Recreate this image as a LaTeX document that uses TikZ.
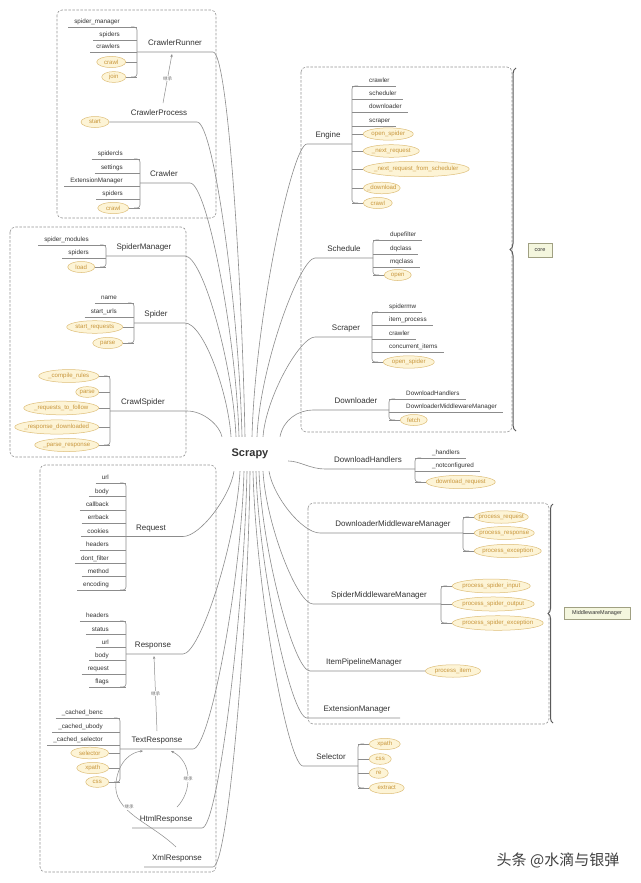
\documentclass[tikz,border=0pt]{standalone}
\usepackage{fontspec}
\setmainfont{Liberation Sans}
\newfontfamily\cjkfont{Noto Sans CJK SC}
\usetikzlibrary{decorations.pathreplacing,arrows.meta,shapes.geometric}
\definecolor{lnc}{RGB}{140,140,140}
\definecolor{txc}{RGB}{51,51,51}
\definecolor{ovf}{RGB}{253,244,214}
\definecolor{ovd}{RGB}{222,190,120}
\definecolor{ovt}{RGB}{200,150,60}
\definecolor{boxc}{RGB}{150,150,150}
\definecolor{brcc}{RGB}{90,90,90}
\definecolor{tagf}{RGB}{244,246,222}
\definecolor{tagd}{RGB}{160,160,130}
% left text child: name, bracket x, underline y, text
\newcommand\kidL[4]{\coordinate (#1b) at (#2,#3);
  \node[kid,anchor=south east] (#1) at ([xshift=-11pt]#1b) {#4};
  \draw[ln] (#1.south west) -- (#1b);}
% left oval child: name, bracket x, centre y, width, text
\newcommand\ovL[5]{\coordinate (#1b) at (#2,#3);
  \node[ov,anchor=east,minimum width=#4pt,minimum height={9.5+#4/18}] (#1) at ([xshift=-11pt]#1b) {#5};
  \draw[ln] (#1.east) -- (#1b);}
\newcommand\kidR[4]{\coordinate (#1b) at (#2,#3);
  \node[kid,anchor=south west] (#1) at ([xshift=11pt]#1b) {#4};
  \draw[ln] (#1b) -- (#1.south east);}
\newcommand\ovR[5]{\coordinate (#1b) at (#2,#3);
  \node[ov,anchor=west,minimum width=#4pt,minimum height={9.5+#4/18}] (#1) at ([xshift=11pt]#1b) {#5};
  \draw[ln] (#1b) -- (#1.west);}
\newcommand\brkL[2]{\draw[ln,rounded corners=3pt] ([xshift=-6pt]#1b) -- (#1b) -- (#2b) -- ([xshift=-6pt]#2b);}
\newcommand\brkR[2]{\draw[ln,rounded corners=3pt] ([xshift=6pt]#1b) -- (#1b) -- (#2b) -- ([xshift=6pt]#2b);}
\begin{document}
\begin{tikzpicture}[x=1pt,y=-1pt,
 ln/.style={draw=lnc, line width=0.6pt},
 kid/.style={font=\fontsize{6.3}{7}\selectfont, text=txc, inner xsep=6pt, inner ysep=3pt, text depth=0pt},
 main/.style={font=\fontsize{8}{9}\selectfont, text=txc, inner xsep=2pt, inner ysep=6pt, text depth=0pt},
 ov/.style={ellipse, draw=ovd, fill=ovf, text=ovt, line width=0.5pt, font=\fontsize{6.1}{7}\selectfont, inner xsep=-60pt, inner ysep=-20pt},
 dbox/.style={draw=boxc, dash pattern=on 2.5pt off 1.5pt, rounded corners=5pt, line width=0.6pt},
 brc/.style={draw=brcc, line width=1pt, decorate, decoration={brace, mirror, amplitude=6pt}},
 tag/.style={draw=tagd, fill=tagf, font=\fontsize{5.5}{6}\selectfont, text=txc, inner sep=0pt},
 inh/.style={draw=lnc, line width=0.5pt, -{Stealth[length=3pt,width=2.4pt]}},
 jc/.style={font=\cjkfont\fontsize{4.5}{5}\selectfont, text=lnc!80!black, fill=white, inner sep=0.8pt}]
\fill[white] (0,0) rectangle (640,883);
\useasboundingbox (0,0) rectangle (640,883);
% dashed group boxes
\draw[dbox] (57,10) rectangle (216,218);
\draw[dbox] (10,227) rectangle (186,457);
\draw[dbox] (40,465) rectangle (216,872);
\draw[dbox] (301,67) rectangle (512,432);
\draw[dbox] (308,503) rectangle (549,724);
% centre
\node[font=\bfseries\fontsize{11}{12}\selectfont, text=txc, minimum width=76pt, minimum height=34pt, inner sep=0pt] (S) at (250,454) {Scrapy};

% ---------- CrawlerRunner
\kidL{cr1}{137}{27}{spider\_manager}
\kidL{cr2}{137}{40}{spiders}
\kidL{cr3}{137}{52}{crawlers}
\ovL{cr4}{137}{62}{29}{crawl}
\ovL{cr5}{137}{77}{24}{join}
\brkL{cr1}{cr5}
\node[main,anchor=south] (CR) at (175,52) {CrawlerRunner};
\coordinate (CRb) at (137,52); \coordinate (CRe) at (213,52);
\draw[ln] (CRb) -- (CRe) .. controls (228,52) and (242,283) .. ([xshift=-5pt]S.north);
% ---------- CrawlerProcess
\node[main,anchor=south] (CP) at (159,122) {CrawlerProcess};
\node[ov,minimum width=28pt,minimum height=11pt] (cps) at (95,122) {start};
\coordinate (CPe) at (197,122);
\draw[ln] (cps.east) -- (CPe) .. controls (214,122) and (239,311) .. ([xshift=-8pt]S.north);
\coordinate (i1s) at (163,103); \coordinate (i1e) at (172,54);
\draw[inh] (i1s) -- node[jc] (j1) {继承} (i1e);
% ---------- Crawler
\kidL{cw1}{140}{159}{spidercls}
\kidL{cw2}{140}{173}{settings}
\kidL{cw3}{140}{186}{ExtensionManager}
\kidL{cw4}{140}{199}{spiders}
\ovL{cw5}{140}{208}{31}{crawl}
\brkL{cw1}{cw5}
\node[main,anchor=south] (CW) at (164,183) {Crawler};
\coordinate (CWb) at (140,183); \coordinate (CWe) at (190,183);
\draw[ln] (CWb) -- (CWe) .. controls (207,183) and (236,335) .. ([xshift=-11pt]S.north);
% ---------- SpiderManager
\kidL{sm1}{106}{245}{spider\_modules}
\kidL{sm2}{106}{258}{spiders}
\ovL{sm3}{106}{267}{27}{load}
\brkL{sm1}{sm3}
\node[main,anchor=south] (SM) at (144,256) {SpiderManager};
\coordinate (SMb) at (106,256); \coordinate (SMe) at (185,256);
\draw[ln] (SMb) -- (SMe) .. controls (203,256) and (233,365) .. ([xshift=-14pt]S.north);
% ---------- Spider
\kidL{sp1}{134}{303}{name}
\kidL{sp2}{134}{317}{start\_urls}
\ovL{sp3}{134}{327}{56}{start\_requests}
\ovL{sp4}{134}{343}{30}{parse}
\brkL{sp1}{sp4}
\node[main,anchor=south] (SP) at (156,323) {Spider};
\coordinate (SPb) at (134,323); \coordinate (SPe) at (185,323);
\draw[ln] (SPb) -- (SPe) .. controls (203,323) and (228,391) .. ([xshift=-19pt]S.north);
% ---------- CrawlSpider
\ovL{cs1}{110}{376}{60}{\_compile\_rules}
\ovL{cs2}{110}{392}{23}{parse}
\ovL{cs3}{110}{408}{75}{\_requests\_to\_follow}
\ovL{cs4}{110}{427}{84}{\_response\_downloaded}
\ovL{cs5}{110}{445}{64}{\_parse\_response}
\brkL{cs1}{cs5}
\node[main,anchor=south] (CS) at (143,411) {CrawlSpider};
\coordinate (CSb) at (110,411); \coordinate (CSe) at (187,411);
\draw[ln] (CSb) -- (CSe) .. controls (204,411) and (220,426) .. ([xshift=-28pt]S.north);
% ---------- Request
\kidL{rq1}{126}{483}{url}
\kidL{rq2}{126}{496.4}{body}
\kidL{rq3}{126}{509.8}{callback}
\kidL{rq4}{126}{523.1}{errback}
\kidL{rq5}{126}{536.5}{cookies}
\kidL{rq6}{126}{549.9}{headers}
\kidL{rq7}{126}{563.3}{dont\_filter}
\kidL{rq8}{126}{576.6}{method}
\kidL{rq9}{126}{590}{encoding}
\brkL{rq1}{rq9}
\node[main,anchor=south] (RQ) at (151,536.5) {Request};
\coordinate (RQb) at (126,536.5); \coordinate (RQe) at (183,536.5);
\draw[ln] (RQb) -- (RQe) .. controls (200,536.5) and (230,497) .. ([xshift=-16pt]S.south);
% ---------- Response
\kidL{rs1}{126}{621}{headers}
\kidL{rs2}{126}{634.2}{status}
\kidL{rs3}{126}{647.4}{url}
\kidL{rs4}{126}{660.6}{body}
\kidL{rs5}{126}{673.8}{request}
\kidL{rs6}{126}{687}{flags}
\brkL{rs1}{rs6}
\node[main,anchor=south] (RS) at (153,654) {Response};
\coordinate (RSb) at (126,654); \coordinate (RSe) at (183,654);
\draw[ln] (RSb) -- (RSe) .. controls (200,654) and (236,544) .. ([xshift=-10pt]S.south);
% ---------- TextResponse
\kidL{tr1}{120}{718}{\_cached\_benc}
\kidL{tr2}{120}{732}{\_cached\_ubody}
\kidL{tr3}{120}{745}{\_cached\_selector}
\ovL{tr4}{120}{753}{38}{selector}
\ovL{tr5}{120}{768}{32}{xpath}
\ovL{tr6}{120}{782}{23}{css}
\brkL{tr1}{tr6}
\node[main,anchor=south] (TR) at (157,749) {TextResponse};
\coordinate (TRb) at (120,749); \coordinate (TRe) at (193,749);
\draw[ln] (TRb) -- (TRe) .. controls (210,749) and (241,582) .. ([xshift=-6pt]S.south);
\coordinate (i2s) at (157,731); \coordinate (i2e) at (154,656);
\draw[inh] (i2s) -- node[jc] (j2) {继承} (i2e);
% ---------- HtmlResponse / XmlResponse
\node[main,anchor=south] (HR) at (166,828) {HtmlResponse};
\coordinate (HRb) at (132,828); \coordinate (HRe) at (202,828);
\draw[ln] (HRb) -- (HRe) .. controls (218,828) and (244,614) .. ([xshift=-3pt]S.south);
\node[main,anchor=south] (XR) at (177,867) {XmlResponse};
\coordinate (XRb) at (144,867); \coordinate (XRe) at (213,867);
\draw[ln] (XRb) -- (XRe) .. controls (228,867) and (248,630) .. (S.south);
\coordinate (i3s) at (177,807); \coordinate (i3e) at (171,751);
\draw[inh] (i3s) .. controls (192,792) and (193,762) .. (i3e);
\node[jc] (j3) at (188,779) {继承};
\coordinate (i4s) at (176,847); \coordinate (i4m) at (116,782); \coordinate (i4e) at (143,751);
\draw[inh] (i4s) .. controls (150,822) and (112,812) .. (i4m) .. controls (119,760) and (132,752) .. (i4e);
\node[jc] (j4) at (129,807) {继承};

% ---------- Engine
\kidR{en1}{352}{86}{crawler}
\kidR{en2}{352}{99}{scheduler}
\kidR{en3}{352}{112}{downloader}
\kidR{en4}{352}{126}{scraper}
\ovR{en5}{352}{134}{50}{open\_spider}
\ovR{en6}{352}{151}{56}{\_next\_request}
\ovR{en7}{352}{169}{106}{\_next\_request\_from\_scheduler}
\ovR{en8}{352}{188}{37}{\_download}
\ovR{en9}{352}{203}{29}{crawl}
\brkR{en1}{en9}
\node[main,anchor=south] (EN) at (328,144) {Engine};
\coordinate (ENb) at (352,144); \coordinate (ENs) at (307,144);
\draw[ln] (ENb) -- (ENs) .. controls (292,144) and (255,320) .. ([xshift=2pt]S.north);
% ---------- Schedule
\kidR{sc1}{373}{240}{dupefilter}
\kidR{sc2}{373}{254}{dqclass}
\kidR{sc3}{373}{267}{mqclass}
\ovR{sc4}{373}{275}{27}{open}
\brkR{sc1}{sc4}
\node[main,anchor=south] (SC) at (344,258) {Schedule};
\coordinate (SCb) at (373,258); \coordinate (SCs) at (315,258);
\draw[ln] (SCb) -- (SCs) .. controls (300,258) and (260,365) .. ([xshift=7pt]S.north);
% ---------- Scraper
\kidR{sr1}{372}{312}{spidermw}
\kidR{sr2}{372}{325}{item\_process}
\kidR{sr3}{372}{339}{crawler}
\kidR{sr4}{372}{352}{concurrent\_items}
\ovR{sr5}{372}{362}{51}{open\_spider}
\brkR{sr1}{sr5}
\node[main,anchor=south] (SR) at (346,337) {Scraper};
\coordinate (SRb) at (372,337); \coordinate (SRs) at (315,337);
\draw[ln] (SRb) -- (SRs) .. controls (300,337) and (266,397) .. ([xshift=13pt]S.north);
% ---------- Downloader
\kidR{dl1}{389}{399}{DownloadHandlers}
\kidR{dl2}{389}{412}{DownloaderMiddlewareManager}
\ovR{dl3}{389}{420}{27}{fetch}
\brkR{dl1}{dl3}
\node[main,anchor=south] (DL) at (356,410) {Downloader};
\coordinate (DLb) at (389,410); \coordinate (DLs) at (313,410);
\draw[ln] (DLb) -- (DLs) .. controls (298,410) and (283,420) .. ([xshift=30pt]S.north);
% ---------- DownloadHandlers
\kidR{dh1}{415}{458}{\_handlers}
\kidR{dh2}{415}{471}{\_notconfigured}
\ovR{dh3}{415}{482}{69}{download\_request}
\brkR{dh1}{dh3}
\node[main,anchor=south] (DH) at (368,469) {DownloadHandlers};
\coordinate (DHb) at (415,469); \coordinate (DHs) at (325,469);
\draw[ln] (DHb) -- (DHs) .. controls (310,469) and (300,461) .. ([yshift=-7pt]S.east);
% ---------- DownloaderMiddlewareManager
\ovR{dm1}{463}{517}{54}{process\_request}
\ovR{dm2}{463}{533}{60}{process\_response}
\ovR{dm3}{463}{551}{67}{process\_exception}
\brkR{dm1}{dm3}
\node[main,anchor=south] (DM) at (393,533) {DownloaderMiddlewareManager};
\coordinate (DMb) at (463,533); \coordinate (DMs) at (320,533);
\draw[ln] (DMb) -- (DMs) .. controls (302,533) and (273,496) .. ([xshift=19pt]S.south);
% ---------- SpiderMiddlewareManager
\ovR{sw1}{441}{586}{78}{process\_spider\_input}
\ovR{sw2}{441}{604}{82}{process\_spider\_output}
\ovR{sw3}{441}{623}{91}{process\_spider\_exception}
\brkR{sw1}{sw3}
\node[main,anchor=south] (SW) at (379,604) {SpiderMiddlewareManager};
\coordinate (SWb) at (441,604); \coordinate (SWs) at (313,604);
\draw[ln] (SWb) -- (SWs) .. controls (297,604) and (266,524) .. ([xshift=13pt]S.south);
% ---------- ItemPipelineManager
\node[ov,minimum width=55pt,minimum height=12.5pt] (ip1) at (453,671) {process\_item};
\node[main,anchor=south] (IP) at (364,671) {ItemPipelineManager};
\coordinate (IPs) at (310,671);
\draw[ln] (ip1.west) -- (IPs) .. controls (294,671) and (262,551) .. ([xshift=9pt]S.south);
% ---------- ExtensionManager
\node[main,anchor=south] (EM) at (357,718) {ExtensionManager};
\coordinate (EMe) at (400,718); \coordinate (EMs) at (307,718);
\draw[ln] (EMe) -- (EMs) .. controls (291,718) and (259,570) .. ([xshift=6pt]S.south);
% ---------- Selector
\ovR{se1}{358}{744}{31}{xpath}
\ovR{se2}{358}{759}{22}{css}
\ovR{se3}{358}{773}{19}{re}
\ovR{se4}{358}{788}{35}{extract}
\brkR{se1}{se4}
\node[main,anchor=south] (SE) at (331,766) {Selector};
\coordinate (SEb) at (358,766); \coordinate (SEs) at (303,766);
\draw[ln] (SEb) -- (SEs) .. controls (288,766) and (256,590) .. ([xshift=3pt]S.south);

% ---------- braces and tags
\draw[brc] (516,68) -- (516,431);
\node[tag, minimum width=24pt, minimum height=14pt] (core) at (540,250) {core};
\draw[brc, decoration={brace, mirror, amplitude=5pt}] (553,504) -- (553,723);
\node[tag, minimum width=66pt, minimum height=12pt] (mwm) at (597,613) {MiddlewareManager};
% watermark
\node[font=\cjkfont\fontsize{15}{16}\selectfont, text=black!75] (wm) at (558,860) {头条 @水滴与银弹};
\end{tikzpicture}
\end{document}
